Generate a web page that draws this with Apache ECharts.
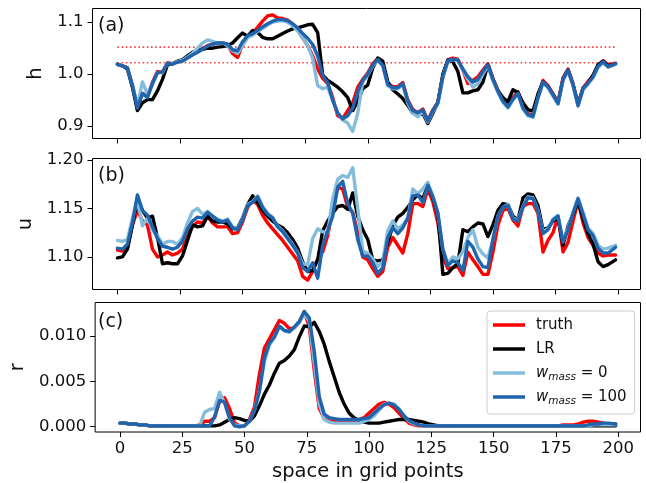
<!DOCTYPE html>
<html>
<head>
<meta charset="utf-8">
<title>h / u / r profiles</title>
<script src="https://cdn.jsdelivr.net/npm/echarts@6.0.0/dist/echarts.min.js"></script>
<style>
  html, body { margin: 0; padding: 0; background: #fff; }
  #chart { width: 646px; height: 483px; }
</style>
</head>
<body>
<div id="chart"></div>
<script>
var gridX = [
  0, 2, 4, 6, 8, 10, 12, 14, 16, 18,
  20, 22, 24, 26, 28, 30, 32, 34, 36, 38,
  40, 42, 44, 46, 48, 50, 52, 54, 56, 58,
  60, 62, 64, 66, 68, 70, 72, 74, 76, 78,
  80, 82, 84, 86, 88, 90, 92, 94, 96, 98,
  100, 102, 104, 106, 108, 110, 112, 114, 116, 118,
  120, 122, 124, 126, 128, 130, 132, 134, 136, 138,
  140, 142, 144, 146, 148, 150, 152, 154, 156, 158,
  160, 162, 164, 166, 168, 170, 172, 174, 176, 178,
  180, 182, 184, 186, 188, 190, 192, 194, 196, 199
];
var xTicks = [0, 25, 50, 75, 100, 125, 150, 175, 200];
var hTicks = [0.9, 1.0, 1.1];
var uTicks = [1.10, 1.15, 1.20];
var rTicks = [0, 0.005, 0.010];
var hLevels = [1.052, 1.022];
var levelSpan = [0, 199];

// panel (a): h
var hTruth = [
  1.019, 1.016, 1.012, 0.978, 0.937, 0.963, 0.957, 0.984, 1.005, 1.004,
  1.022, 1.020, 1.024, 1.026, 1.032, 1.038, 1.043, 1.049, 1.055, 1.058,
  1.060, 1.060, 1.057, 1.040, 1.032, 1.058, 1.074, 1.079, 1.090, 1.102,
  1.112, 1.114, 1.108, 1.107, 1.104, 1.096, 1.085, 1.070, 1.055, 1.035,
  1.010, 0.992, 0.982, 0.955, 0.920, 0.915, 0.930, 0.945, 0.975, 0.990,
  1.002, 1.020, 1.030, 1.018, 0.982, 0.976, 0.976, 0.984, 0.950, 0.932,
  0.926, 0.933, 0.911, 0.931, 0.946, 0.997, 1.028, 1.031, 1.029, 1.008,
  0.982, 0.988, 0.995, 1.008, 1.020, 0.992, 0.969, 0.950, 0.939, 0.955,
  0.966, 0.938, 0.924, 0.921, 0.958, 0.988, 0.978, 0.962, 0.946, 0.993,
  1.010, 0.982, 0.942, 0.974, 0.986, 0.997, 1.017, 1.026, 1.018, 1.021
];
var hLR = [
  1.019, 1.016, 1.010, 0.975, 0.930, 0.945, 0.951, 0.951, 0.968, 0.990,
  1.018, 1.020, 1.025, 1.028, 1.035, 1.042, 1.046, 1.048, 1.050, 1.050,
  1.052, 1.053, 1.055, 1.060, 1.070, 1.079, 1.073, 1.084, 1.080, 1.071,
  1.068, 1.068, 1.073, 1.078, 1.083, 1.087, 1.089, 1.092, 1.095, 1.096,
  1.080, 0.998, 0.988, 0.982, 0.975, 0.966, 0.955, 0.930, 0.948, 0.972,
  0.979, 1.012, 1.031, 1.025, 0.985, 0.970, 0.962, 0.953, 0.940, 0.925,
  0.922, 0.925, 0.905, 0.925, 0.945, 1.000, 1.027, 1.024, 1.005, 0.964,
  0.964, 0.968, 0.970, 0.985, 1.018, 0.990, 0.968, 0.955, 0.947, 0.970,
  0.965, 0.945, 0.932, 0.929, 0.962, 0.985, 0.976, 0.960, 0.944, 0.990,
  1.008, 0.980, 0.942, 0.972, 0.983, 0.998, 1.018, 1.025, 1.016, 1.020
];
var hW0 = [
  1.019, 1.016, 1.012, 0.980, 0.940, 0.985, 0.962, 0.980, 1.003, 1.003,
  1.021, 1.020, 1.024, 1.027, 1.033, 1.040, 1.050, 1.060, 1.066, 1.063,
  1.060, 1.060, 1.055, 1.045, 1.040, 1.055, 1.070, 1.075, 1.082, 1.088,
  1.095, 1.100, 1.102, 1.103, 1.100, 1.093, 1.083, 1.070, 1.055, 1.030,
  0.978, 0.972, 0.975, 0.950, 0.925, 0.912, 0.906, 0.890, 0.925, 0.985,
  0.998, 1.016, 1.027, 1.016, 0.978, 0.972, 0.972, 0.980, 0.944, 0.925,
  0.918, 0.928, 0.908, 0.928, 0.943, 0.993, 1.025, 1.028, 1.027, 1.008,
  0.990, 0.975, 0.982, 1.000, 1.016, 0.988, 0.965, 0.946, 0.935, 0.950,
  0.962, 0.933, 0.920, 0.917, 0.953, 0.983, 0.974, 0.958, 0.942, 0.988,
  1.006, 0.978, 0.938, 0.970, 0.981, 0.993, 1.013, 1.022, 1.014, 1.019
];
var hW100 = [
  1.019, 1.016, 1.012, 0.978, 0.935, 0.963, 0.955, 0.982, 1.003, 1.004,
  1.021, 1.019, 1.023, 1.025, 1.031, 1.037, 1.042, 1.048, 1.054, 1.058,
  1.060, 1.060, 1.058, 1.047, 1.045, 1.062, 1.074, 1.078, 1.084, 1.091,
  1.097, 1.102, 1.105, 1.105, 1.103, 1.097, 1.089, 1.078, 1.069, 1.057,
  1.035, 0.997, 0.984, 0.950, 0.925, 0.914, 0.920, 0.935, 0.966, 0.988,
  1.000, 1.018, 1.028, 1.017, 0.980, 0.974, 0.974, 0.982, 0.948, 0.930,
  0.926, 0.931, 0.910, 0.930, 0.945, 0.995, 1.026, 1.029, 1.027, 1.010,
  0.995, 0.985, 0.990, 1.005, 1.018, 0.990, 0.967, 0.948, 0.937, 0.952,
  0.963, 0.935, 0.922, 0.919, 0.955, 0.985, 0.976, 0.960, 0.944, 0.990,
  1.008, 0.980, 0.940, 0.972, 0.983, 0.995, 1.015, 1.024, 1.014, 1.020
];

// panel (b): u
var uTruth = [
  1.107, 1.106, 1.109, 1.133, 1.148, 1.137, 1.133, 1.108, 1.100, 1.102,
  1.105, 1.102, 1.104, 1.108, 1.122, 1.131, 1.136, 1.135, 1.142, 1.135,
  1.131, 1.131, 1.131, 1.124, 1.125, 1.136, 1.151, 1.159, 1.154, 1.143,
  1.135, 1.129, 1.123, 1.117, 1.110, 1.103, 1.096, 1.080, 1.076, 1.085,
  1.098, 1.105, 1.122, 1.150, 1.172, 1.170, 1.151, 1.146, 1.125, 1.100,
  1.097, 1.088, 1.080, 1.085, 1.110, 1.120, 1.112, 1.104, 1.124, 1.155,
  1.155, 1.152, 1.170, 1.157, 1.135, 1.100, 1.088, 1.089, 1.090, 1.081,
  1.105, 1.097, 1.090, 1.082, 1.082, 1.105, 1.133, 1.148, 1.150, 1.138,
  1.132, 1.152, 1.155, 1.155, 1.145, 1.105, 1.117, 1.125, 1.142, 1.105,
  1.115, 1.137, 1.158, 1.135, 1.120, 1.112, 1.104, 1.101, 1.102, 1.102
];
var uLR = [
  1.099, 1.100, 1.108, 1.133, 1.160, 1.148, 1.140, 1.142, 1.120, 1.093,
  1.094, 1.093, 1.093, 1.101, 1.117, 1.133, 1.131, 1.132, 1.142, 1.137,
  1.136, 1.136, 1.134, 1.129, 1.130, 1.140, 1.154, 1.163, 1.156, 1.148,
  1.142, 1.137, 1.133, 1.130, 1.125, 1.118, 1.109, 1.095, 1.085, 1.086,
  1.097, 1.127, 1.137, 1.145, 1.152, 1.153, 1.149, 1.166, 1.142, 1.128,
  1.118, 1.097, 1.096, 1.097, 1.115, 1.132, 1.141, 1.145, 1.151, 1.159,
  1.164, 1.160, 1.174, 1.161, 1.144, 1.082, 1.083, 1.089, 1.093, 1.128,
  1.126, 1.131, 1.135, 1.134, 1.121, 1.133, 1.148, 1.155, 1.154, 1.142,
  1.138, 1.161, 1.165, 1.164, 1.153, 1.128, 1.130, 1.137, 1.140, 1.112,
  1.132, 1.144, 1.157, 1.140, 1.124, 1.113, 1.095, 1.090, 1.092, 1.097
];
var uW0 = [
  1.117, 1.116, 1.118, 1.140, 1.160, 1.132, 1.140, 1.128, 1.122, 1.113,
  1.116, 1.116, 1.113, 1.120, 1.135, 1.147, 1.150, 1.144, 1.147, 1.142,
  1.139, 1.137, 1.139, 1.131, 1.129, 1.139, 1.154, 1.157, 1.163, 1.152,
  1.145, 1.141, 1.132, 1.127, 1.120, 1.113, 1.105, 1.093, 1.092, 1.119,
  1.129, 1.126, 1.125, 1.160, 1.180, 1.184, 1.182, 1.192, 1.150, 1.106,
  1.104, 1.098, 1.090, 1.095, 1.127, 1.137, 1.129, 1.133, 1.140, 1.170,
  1.165, 1.170, 1.177, 1.163, 1.146, 1.108, 1.093, 1.100, 1.098, 1.105,
  1.120, 1.128, 1.110, 1.103, 1.099, 1.118, 1.142, 1.151, 1.154, 1.140,
  1.138, 1.152, 1.162, 1.161, 1.148, 1.126, 1.129, 1.139, 1.143, 1.117,
  1.130, 1.146, 1.161, 1.146, 1.130, 1.124, 1.112, 1.108, 1.109, 1.112
];
var uW100 = [
  1.109, 1.108, 1.113, 1.135, 1.164, 1.148, 1.143, 1.131, 1.119, 1.111,
  1.110, 1.108, 1.110, 1.116, 1.129, 1.137, 1.141, 1.140, 1.146, 1.142,
  1.138, 1.136, 1.138, 1.130, 1.128, 1.138, 1.153, 1.156, 1.162, 1.151,
  1.144, 1.140, 1.131, 1.126, 1.119, 1.112, 1.104, 1.089, 1.085, 1.094,
  1.078, 1.112, 1.127, 1.142, 1.172, 1.178, 1.155, 1.145, 1.118, 1.101,
  1.101, 1.094, 1.083, 1.089, 1.120, 1.130, 1.124, 1.130, 1.140, 1.163,
  1.164, 1.156, 1.174, 1.162, 1.145, 1.108, 1.091, 1.096, 1.094, 1.086,
  1.116, 1.110, 1.098, 1.090, 1.089, 1.118, 1.142, 1.151, 1.153, 1.139,
  1.137, 1.151, 1.161, 1.160, 1.147, 1.124, 1.128, 1.138, 1.142, 1.115,
  1.128, 1.145, 1.160, 1.144, 1.128, 1.122, 1.109, 1.104, 1.104, 1.110
];

// panel (c): r
var rTruth = [
  0.0004, 0.0004, 0.0003, 0.0003, 0.0002, 0.0002, 0.0001, 0.0001, 0.0001, 0.0001,
  0.0001, 0.0001, 0.0001, 0.0001, 0.0001, 0.0001, 0.0002, 0.0006, 0.0006, 0.0010,
  0.0028, 0.0032, 0.0020, 0.0004, 0.0001, 0.0001, 0.0008, 0.0022, 0.0058, 0.0087,
  0.0097, 0.0107, 0.0117, 0.0114, 0.0108, 0.0109, 0.0115, 0.0127, 0.0110, 0.0062,
  0.0020, 0.0009, 0.0006, 0.0006, 0.0006, 0.0006, 0.0006, 0.0007, 0.0008, 0.0010,
  0.0015, 0.0020, 0.0025, 0.0027, 0.0025, 0.0021, 0.0015, 0.0009, 0.0004, 0.0002,
  0.0001, 0.0001, 0.0001, 0.0001, 0.0001, 0.0001, 0.0001, 0.0001, 0.0001, 0.0001,
  0.0001, 0.0001, 0.0001, 0.0001, 0.0001, 0.0001, 0.0001, 0.0001, 0.0001, 0.0001,
  0.0001, 0.0001, 0.0001, 0.0001, 0.0001, 0.0001, 0.0001, 0.0001, 0.0001, 0.0002,
  0.0002, 0.0002, 0.0003, 0.0005, 0.0006, 0.0006, 0.0005, 0.0004, 0.0003, 0.0003
];
var rLR = [
  0.0004, 0.0004, 0.0003, 0.0003, 0.0002, 0.0002, 0.0001, 0.0001, 0.0001, 0.0001,
  0.0001, 0.0001, 0.0001, 0.0001, 0.0001, 0.0001, 0.0001, 0.0001, 0.0001, 0.0001,
  0.0002, 0.0005, 0.0008, 0.0010, 0.0009, 0.0007, 0.0006, 0.0012, 0.0023, 0.0036,
  0.0046, 0.0059, 0.0070, 0.0073, 0.0078, 0.0085, 0.0099, 0.0111, 0.0110, 0.0115,
  0.0105, 0.0091, 0.0072, 0.0055, 0.0038, 0.0025, 0.0015, 0.0010, 0.0007, 0.0005,
  0.0004, 0.0004, 0.0004, 0.0005, 0.0006, 0.0007, 0.0008, 0.0008, 0.0008, 0.0007,
  0.0006, 0.0005, 0.0003, 0.0002, 0.0001, 0.0001, 0.0001, 0.0001, 0.0001, 0.0001,
  0.0001, 0.0001, 0.0001, 0.0001, 0.0001, 0.0001, 0.0001, 0.0001, 0.0001, 0.0001,
  0.0001, 0.0001, 0.0001, 0.0001, 0.0001, 0.0001, 0.0001, 0.0001, 0.0001, 0.0001,
  0.0001, 0.0001, 0.0001, 0.0001, 0.0001, 0.0001, 0.0001, 0.0001, 0.0001, 0.0001
];
var rW0 = [
  0.0004, 0.0004, 0.0003, 0.0003, 0.0002, 0.0002, 0.0001, 0.0001, 0.0001, 0.0001,
  0.0001, 0.0001, 0.0001, 0.0001, 0.0001, 0.0001, 0.0001, 0.0016, 0.0019, 0.0020,
  0.0038, 0.0026, 0.0008, 0.0002, 0.0001, 0.0001, 0.0006, 0.0018, 0.0040, 0.0072,
  0.0090, 0.0098, 0.0110, 0.0106, 0.0104, 0.0109, 0.0115, 0.0125, 0.0116, 0.0070,
  0.0025, 0.0008, 0.0005, 0.0004, 0.0004, 0.0004, 0.0004, 0.0004, 0.0004, 0.0006,
  0.0008, 0.0012, 0.0018, 0.0025, 0.0026, 0.0025, 0.0020, 0.0012, 0.0006, 0.0003,
  0.0002, 0.0001, 0.0001, 0.0001, 0.0001, 0.0001, 0.0001, 0.0001, 0.0001, 0.0001,
  0.0001, 0.0001, 0.0001, 0.0001, 0.0001, 0.0001, 0.0001, 0.0001, 0.0001, 0.0001,
  0.0001, 0.0001, 0.0001, 0.0001, 0.0001, 0.0001, 0.0001, 0.0001, 0.0001, 0.0001,
  0.0001, 0.0001, 0.0001, 0.0001, 0.0001, 0.0002, 0.0002, 0.0002, 0.0002, 0.0002
];
var rW100 = [
  0.0004, 0.0004, 0.0003, 0.0003, 0.0002, 0.0002, 0.0001, 0.0001, 0.0001, 0.0001,
  0.0001, 0.0001, 0.0001, 0.0001, 0.0001, 0.0001, 0.0001, 0.0001, 0.0001, 0.0011,
  0.0029, 0.0027, 0.0010, 0.0001, 0.0000, 0.0001, 0.0006, 0.0018, 0.0039, 0.0076,
  0.0092, 0.0099, 0.0111, 0.0106, 0.0105, 0.0110, 0.0116, 0.0127, 0.0120, 0.0083,
  0.0033, 0.0014, 0.0010, 0.0009, 0.0008, 0.0008, 0.0008, 0.0008, 0.0008, 0.0009,
  0.0010, 0.0015, 0.0020, 0.0024, 0.0026, 0.0024, 0.0019, 0.0012, 0.0007, 0.0004,
  0.0002, 0.0001, 0.0001, 0.0001, 0.0001, 0.0001, 0.0001, 0.0001, 0.0001, 0.0001,
  0.0001, 0.0001, 0.0001, 0.0001, 0.0001, 0.0001, 0.0001, 0.0001, 0.0001, 0.0001,
  0.0001, 0.0001, 0.0001, 0.0001, 0.0001, 0.0001, 0.0001, 0.0001, 0.0001, 0.0001,
  0.0001, 0.0001, 0.0001, 0.0001, 0.0002, 0.0003, 0.0003, 0.0004, 0.0004, 0.0003
];

var seriesNames = ['truth', 'LR', 'w_mass=0', 'w_mass=100'];
var seriesColors = ['#ff0000', '#000000', '#85bcdc', '#1f64ad'];
var font = 'DejaVu Sans';

var myChart = echarts.init(document.getElementById('chart'), null, { renderer: 'canvas' });

function pairs(ys) {
  return gridX.map(function (x, i) { return [x, ys[i]]; });
}

function setChartOptions() {
  var panels = [
    [hTruth, hLR, hW0, hW100],
    [uTruth, uLR, uW0, uW100],
    [rTruth, rLR, rW0, rW100]
  ];
  var seriesData = [];
  panels.forEach(function (panel, p) {
    panel.forEach(function (ys, k) {
      seriesData.push({
        name: seriesNames[k],
        type: 'line',
        xAxisIndex: p,
        yAxisIndex: p,
        data: pairs(ys),
        symbol: 'none',
        lineStyle: { color: seriesColors[k], width: 3.4, join: 'round', cap: 'round' },
        itemStyle: { color: seriesColors[k] },
        emphasis: { disabled: true },
        z: 3
      });
    });
  });
  hLevels.forEach(function (lv) {
    seriesData.push({
      name: 'level',
      type: 'line',
      xAxisIndex: 0,
      yAxisIndex: 0,
      data: [[levelSpan[0], lv], [levelSpan[1], lv]],
      symbol: 'none',
      lineStyle: { color: '#ff2020', width: 1.6, type: [1.6, 2.6], opacity: 0.85 },
      emphasis: { disabled: true },
      z: 2
    });
  });

  var frames = [
    { top: 8.5, height: 130 },
    { top: 158.5, height: 131 },
    { top: 302.5, height: 130 }
  ];
  var grids = frames.map(function (f) {
    return {
      left: 92.5, top: f.top, width: 548, height: f.height,
      show: true, borderColor: '#000', borderWidth: 1, backgroundColor: 'transparent'
    };
  });

  var xAxes = [0, 1, 2].map(function (p) {
    return {
      type: 'value',
      gridIndex: p,
      position: 'bottom',
      min: -9.95,
      max: 208.95,
      axisLine: { show: false, onZero: false },
      splitLine: { show: false },
      axisTick: { show: true, length: 5, customValues: xTicks, lineStyle: { color: '#000', width: 1 } },
      axisLabel: {
        show: p === 2, customValues: xTicks, margin: 8,
        fontSize: 16.5, fontFamily: font, color: '#111'
      },
      name: p === 2 ? 'space in grid points' : '',
      nameLocation: 'middle',
      nameGap: 30,
      nameTextStyle: { fontSize: 19.5, fontFamily: font, color: '#111' }
    };
  });

  var yDefs = [
    { min: 0.8763, max: 1.1263, ticks: hTicks, digits: 1, name: 'h', gap: 40 },
    { min: 1.0664, max: 1.2015, ticks: uTicks, digits: 2, name: 'u', gap: 48 },
    { min: -0.00058, max: 0.01369, ticks: rTicks, digits: 3, name: 'r', gap: 58 }
  ];
  var yAxes = yDefs.map(function (d, p) {
    return {
      type: 'value',
      gridIndex: p,
      position: 'left',
      min: d.min,
      max: d.max,
      axisLine: { show: false, onZero: false },
      splitLine: { show: false },
      axisTick: { show: true, length: 5, customValues: d.ticks, lineStyle: { color: '#000', width: 1 } },
      axisLabel: {
        customValues: d.ticks, margin: 9, fontSize: 16.5, fontFamily: font, color: '#111',
        formatter: function (v) { return Number(v).toFixed(d.digits); }
      },
      name: d.name,
      nameLocation: 'middle',
      nameRotate: 90,
      nameGap: d.gap,
      nameTextStyle: { fontSize: 19.5, fontFamily: font, color: '#111' }
    };
  });

  var legendLabels = {
    'truth': 'truth',
    'LR': 'LR',
    'w_mass=0': '{w|w}{s|mass}{n| = 0}',
    'w_mass=100': '{w|w}{s|mass}{n| = 100}'
  };

  var option = {
    animation: false,
    backgroundColor: '#fff',
    grid: grids,
    xAxis: xAxes,
    yAxis: yAxes,
    legend: {
      data: seriesNames,
      orient: 'vertical',
      left: 487,
      top: 311,
      icon: 'rect',
      itemWidth: 32,
      itemHeight: 3.5,
      itemGap: 4,
      padding: [4, 8, 7, 6],
      borderColor: '#cccccc',
      borderWidth: 1,
      borderRadius: 3,
      backgroundColor: 'rgba(255,255,255,0.8)',
      selectedMode: false,
      formatter: function (name) { return legendLabels[name]; },
      textStyle: {
        fontSize: 15, fontFamily: font, color: '#111', lineHeight: 20, padding: [0, 0, 0, 6],
        rich: {
          w: { fontSize: 15, fontStyle: 'italic', fontFamily: font, color: '#111', lineHeight: 20 },
          s: { fontSize: 10.5, fontStyle: 'italic', fontFamily: font, color: '#111', lineHeight: 11, verticalAlign: 'bottom' },
          n: { fontSize: 15, fontFamily: font, color: '#111', lineHeight: 20 }
        }
      }
    },
    graphic: [
      { type: 'text', x: 98, y: 26, style: { text: '(a)', font: '19px "DejaVu Sans"', fill: '#111', verticalAlign: 'middle' } },
      { type: 'text', x: 98, y: 176, style: { text: '(b)', font: '19px "DejaVu Sans"', fill: '#111', verticalAlign: 'middle' } },
      { type: 'text', x: 98, y: 322, style: { text: '(c)', font: '19px "DejaVu Sans"', fill: '#111', verticalAlign: 'middle' } }
    ],
    series: seriesData
  };
  myChart.setOption(option);
}

setChartOptions();
</script>
</body>
</html>
